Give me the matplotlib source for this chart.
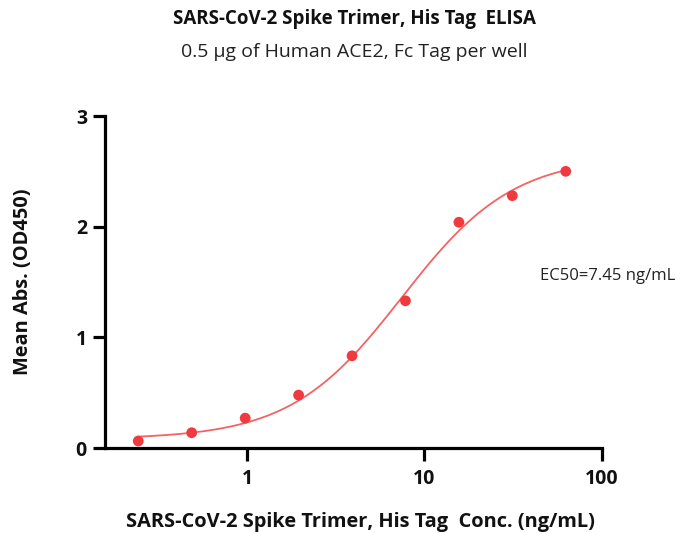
import numpy as np
import matplotlib
matplotlib.use("Agg")
import matplotlib.pyplot as plt

conc = [0.244, 0.488, 0.977, 1.953, 3.906, 7.8125, 15.625, 31.25, 62.5]
od450 = [0.063, 0.138, 0.27, 0.478, 0.833, 1.33, 2.04, 2.28, 2.50]
# 4PL fit parameters
bottom, top, ec50, hill = 0.08, 2.64, 7.45, 1.38

title = "SARS-CoV-2 Spike Trimer, His Tag  ELISA"
subtitle = "0.5 µg of Human ACE2, Fc Tag per well"
xlabel = "SARS-CoV-2 Spike Trimer, His Tag  Conc. (ng/mL)"
ylabel = "Mean Abs. (OD450)"
ec50_text = "EC50=7.45 ng/mL"

plt.rcParams['font.family'] = ['Open Sans', 'DejaVu Sans']

W, H = 684, 533
fig = plt.figure(figsize=(6.84, 5.33), dpi=100)
ax_l, ax_r, ax_b, ax_t = 105, 602, 448, 116
ax = fig.add_axes([ax_l / W, 1 - ax_b / H, (ax_r - ax_l) / W, (ax_b - ax_t) / H])

xs = np.logspace(np.log10(conc[0]), np.log10(conc[-1]), 300)
ys = bottom + (top - bottom) / (1 + (ec50 / xs) ** hill)
ax.plot(xs, ys, color='#F26464', lw=1.3, zorder=2)
ax.scatter(conc, od450, s=60, color='#EF3B3F', zorder=3, edgecolors='none')

ax.set_xscale('log')
ax.set_xlim(0.1585, 100)
ax.set_ylim(0, 3)
ax.set_xticks([1, 10, 100])
ax.set_xticklabels(['1', '10', '100'])
ax.set_yticks([0, 1, 2, 3])
ax.xaxis.set_minor_locator(matplotlib.ticker.NullLocator())

for s in ['top', 'right']:
    ax.spines[s].set_visible(False)
for s in ['left', 'bottom']:
    ax.spines[s].set_linewidth(2.3)
ax.tick_params(axis='both', which='major', direction='out', length=9, width=2.3,
               labelsize=14, pad=4, labelcolor='#111111')
ax.tick_params(axis='x', pad=6)
for lab in ax.get_xticklabels() + ax.get_yticklabels():
    lab.set_fontweight('bold')

ax.set_xlabel(xlabel, fontsize=14.4, fontweight='bold', va='center', color='#111111')
ax.xaxis.set_label_coords((360 - ax_l) / (ax_r - ax_l), (ax_b - 522) / (ax_b - ax_t))
ax.set_ylabel(ylabel, fontsize=14.4, fontweight='bold', va='center', color='#111111')
ax.yaxis.set_label_coords((23 - ax_l) / (ax_r - ax_l), 0.5)

cx = (354) / W
fig.text(cx, 1 - 19 / H, title, ha='center', va='center', fontsize=13.5,
         fontweight='bold', color='#111111')
fig.text(cx, 1 - 52 / H, subtitle, ha='center', va='center', fontsize=14,
         color='#222222')
fig.text(540 / W, 1 - 276 / H, ec50_text, ha='left', va='center', fontsize=12,
         color='#222222')

fig.savefig('out.png', dpi=100)
